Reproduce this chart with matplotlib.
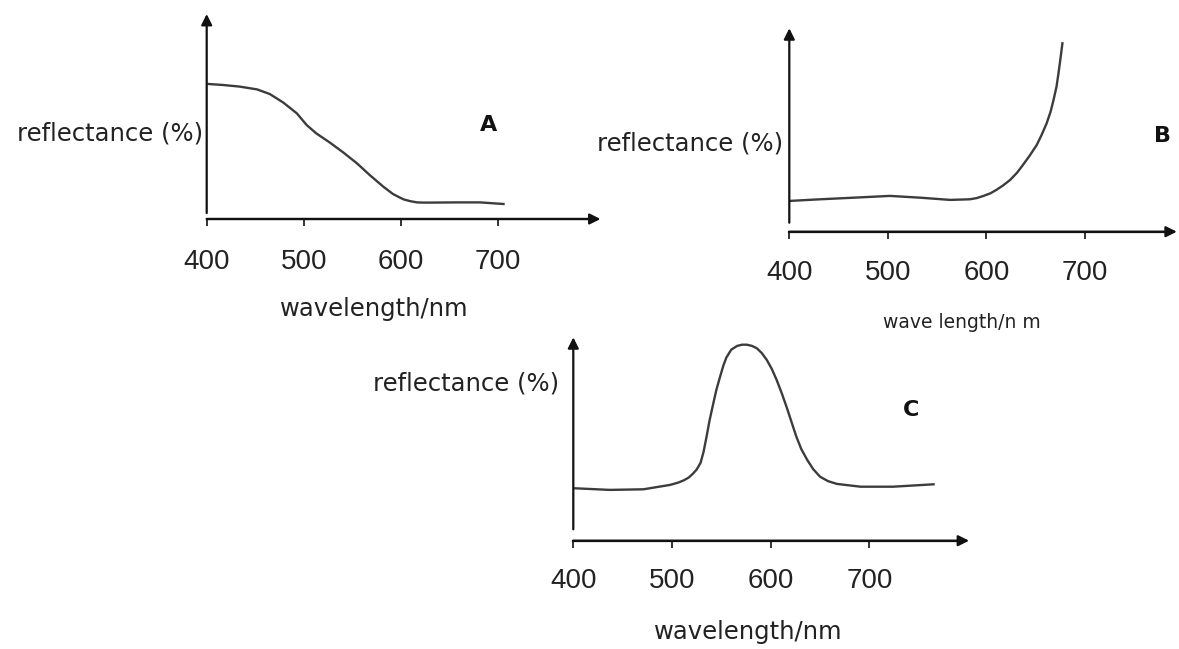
import matplotlib
matplotlib.use("Agg")
import matplotlib.pyplot as plt

# ---- data (wavelength in nm, reflectance in arbitrary %) ----
wl_a = [402, 417, 434, 452, 465, 479, 493, 503, 513, 527, 541, 555, 568, 582, 592,
        598, 603, 610, 617, 623, 630, 658, 682, 706]
refl_a = [67.5, 67, 66.2, 64.8, 62.5, 58.2, 52.8, 47, 42.8, 38.2, 33.2, 27.8, 22, 16.2,
          12.5, 11, 9.8, 8.9, 8.3, 8.2, 8.2, 8.3, 8.3, 7.5]

wl_b = [401, 431, 465, 502, 533, 563, 583, 590, 597, 604, 610, 617, 624, 631, 637,
        644, 651, 656, 661, 665, 668, 671, 673, 675, 677]
refl_b = [15.4, 16.2, 17, 17.9, 17, 15.9, 16.2, 16.8, 17.9, 19.2, 20.9, 23.2, 25.9,
          29.5, 33.4, 38.2, 43.4, 48.5, 54.2, 60, 65.9, 72.5, 79.2, 86.5, 94.2]

wl_c = [402, 437, 471, 498, 506, 512, 517, 521, 525, 529, 532, 535, 538, 542, 545,
        549, 552, 555, 560, 566, 571, 576, 581, 586, 591, 596, 601, 606, 611, 616,
        621, 626, 631, 637, 643, 650, 658, 667, 691, 724, 765]
refl_c = [26.2, 25.4, 25.7, 27.9, 29, 30.2, 31.6, 33.4, 35.6, 39, 44.5, 52, 60,
          69, 75.5, 82.5, 87.5, 91.5, 95.5, 97.4, 98, 98, 97.4, 96.2, 93.8, 90.4, 86,
          80.4, 74, 67, 59.5, 52, 45.8, 40.4, 35.8, 32, 29.8, 28.4, 27, 27, 28.2]

ticks = [400, 500, 600, 700]
tick_labels = ["400", "500", "600", "700"]

W, H = 1179, 649
INK = "#111111"
CURVE = "#3c3c3c"

fig = plt.figure(figsize=(W / 100, H / 100), dpi=100)
fig.patch.set_facecolor("white")


def make_panel(x400, px100, y0px, xlim, ylim):
    # axes box chosen so that 400 nm sits at x400 px and reflectance 0 at y0px
    ppu = 2.0
    left = x400 + (xlim[0] - 400) * px100 / 100
    right = x400 + (xlim[1] - 400) * px100 / 100
    top = y0px - ylim[1] * ppu
    bottom = y0px - ylim[0] * ppu
    ax = fig.add_axes([left / W, 1 - bottom / H, (right - left) / W, (bottom - top) / H])
    ax.set_xlim(xlim)
    ax.set_ylim(ylim)
    ax.patch.set_alpha(0)
    return ax


def draw_axes(ax, x_end, y_bot, y_top, pad):
    for s in ["top", "right", "left"]:
        ax.spines[s].set_visible(False)
    ax.spines["bottom"].set_position(("data", 0))
    ax.spines["bottom"].set_bounds(400, x_end - 5)
    ax.spines["bottom"].set_linewidth(1.6)
    ax.spines["bottom"].set_color(INK)
    ax.set_yticks([])
    ax.set_xticks(ticks)
    ax.set_xticklabels(tick_labels, family="Liberation Sans", fontsize=20, color="#222222")
    ax.tick_params(axis="x", direction="out", length=5, width=1.2, color=INK, pad=pad)
    arrow = dict(arrowstyle="-|>", color=INK, lw=1.6, mutation_scale=16,
                 shrinkA=0, shrinkB=0)
    ax.annotate("", xy=(x_end, 0), xytext=(400, 0), arrowprops=arrow,
                annotation_clip=False)
    ax.annotate("", xy=(400, y_top), xytext=(400, y_bot), arrowprops=arrow,
                annotation_clip=False)


def ftext(x, y, s, **kw):
    fig.text(x / W, 1 - y / H, s, **kw)


label_kw = dict(family="DejaVu Sans", fontsize=17.5, color="#222222", va="center")
letter_kw = dict(family="DejaVu Sans", fontsize=16, fontweight="bold", color=INK,
                 ha="center", va="center")

# ---- panel A ----
ax_a = make_panel(206.7, 97, 219, (380, 830), (-12, 106))
draw_axes(ax_a, 806, 3, 102.5, 16.5)
ax_a.plot(wl_a, refl_a, color=CURVE, lw=1.7, solid_joinstyle="round")
ftext(203, 134, "reflectance (%)", ha="right", **label_kw)
ftext(374, 309, "wavelength/nm", ha="center", **label_kw)
ftext(489, 125, "A", **letter_kw)

# ---- panel B ----
ax_b = make_panel(789.3, 98.6, 231.7, (380, 800), (-12, 106))
draw_axes(ax_b, 793, 4.5, 101.7, 15.4)
ax_b.plot(wl_b, refl_b, color=CURVE, lw=1.7, solid_joinstyle="round")
ftext(783, 144, "reflectance (%)", ha="right", **label_kw)
ftext(962, 323, "wave length/n m", ha="center", family="DejaVu Sans", fontsize=13.5,
      color="#222222", va="center")
ftext(1163, 136, "B", **letter_kw)

# ---- panel C ----
ax_c = make_panel(573.3, 98.7, 540.7, (380, 810), (-12, 106))
draw_axes(ax_c, 801, 5.7, 101.7, 14.7)
ax_c.plot(wl_c, refl_c, color=CURVE, lw=1.7, solid_joinstyle="round")
ftext(559, 383, "reflectance (%)", ha="right", **label_kw)
ftext(748, 632, "wavelength/nm", ha="center", **label_kw)
ftext(911, 410, "C", **letter_kw)

fig.savefig("out.png", dpi=100, facecolor="white")
